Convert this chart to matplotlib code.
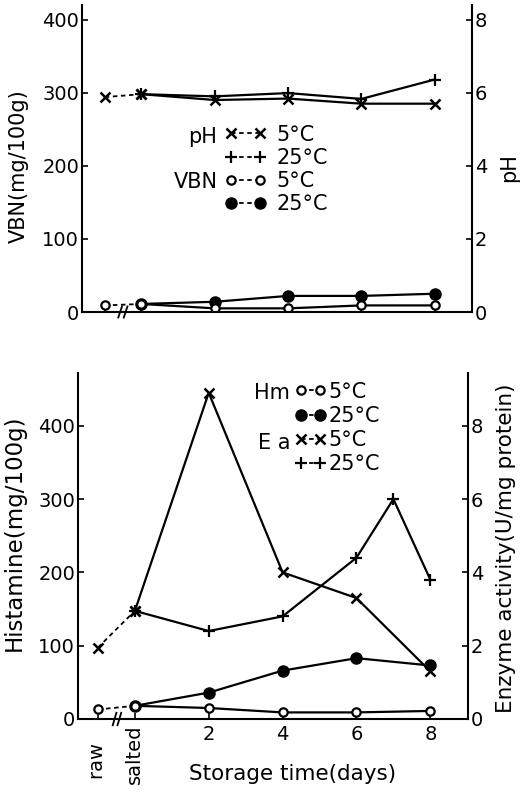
import matplotlib
matplotlib.use('Agg')
import matplotlib.pyplot as plt
from matplotlib.lines import Line2D
import matplotlib.transforms as mtransforms

plt.rcParams['font.family'] = ['DejaVu Sans']
plt.rcParams['font.size'] = 14

# eje x: raw = -1, salted = 0, luego dias de almacenamiento
x_dias = [-1, 0, 2, 4, 6, 8]
x_dias_sin_raw = [0, 2, 4, 6, 8]
x_ea25 = [0, 2, 4, 6, 7, 8]
xtick_pos = [-1, 0, 2, 4, 6, 8]
xtick_lbl = ['raw   ', 'salted', '2', '4', '6', '8']

# panel superior: pH y VBN
ph_5 = [5.88, 5.96, 5.80, 5.84, 5.70, 5.70]
ph_25 = [5.96, 5.90, 5.99, 5.83, 6.36]
vbn_5 = [9, 11, 5, 5, 9, 9]
vbn_25 = [11, 14, 22, 22, 25]

# panel inferior: histamina y actividad enzimatica
hm_5 = [13, 18, 15, 9, 9, 11]
hm_25 = [18, 36, 66, 83, 73]
ea_5 = [1.95, 2.95, 8.9, 4.0, 3.3, 1.3]
ea_25 = [2.95, 2.4, 2.8, 4.4, 6.0, 3.8]

LW = 1.6
dash = (0, (2.5, 2))


def estilo_ejes(ax, ax2):
    for a in (ax, ax2):
        a.spines['top'].set_visible(False)
        for s in a.spines.values():
            s.set_linewidth(1.5)
        a.tick_params(direction='in', length=4, width=1.2, labelsize=14)
    ax2.spines['left'].set_visible(False)
    ax2.spines['bottom'].set_visible(False)
    ax.spines['right'].set_visible(False)
    ax.tick_params(axis='y', pad=2)
    ax2.tick_params(axis='y', pad=2)


def marcas_corte(ax, xs):
    trans = mtransforms.blended_transform_factory(ax.transData, ax.transAxes)
    for xc in xs:
        ax.plot([xc - 0.05, xc + 0.05], [-0.018, 0.018], color='k', lw=1.3,
                transform=trans, clip_on=False)


fig = plt.figure(figsize=(5.21, 7.92), dpi=100)

# ---------------- panel superior ----------------
ax = fig.add_axes([82 / 521, 1 - 312 / 792, 390 / 521, 307 / 792])
ax2 = ax.twinx()
ax.set_xlim(-1.62, 9.02)
ax.set_ylim(0, 420)
ax2.set_ylim(0, 8.4)
estilo_ejes(ax, ax2)
ax.set_yticks([0, 100, 200, 300, 400])
ax2.set_yticks([0, 2, 4, 6, 8])
ax.set_xticks(xtick_pos)
ax.set_xticklabels([])

mk_x = dict(marker='x', ms=7, mew=1.8, color='k')
mk_p = dict(marker='+', ms=9, mew=1.6, color='k')
mk_o = dict(marker='o', ms=6, mew=1.6, mfc='white', color='k')
mk_f = dict(marker='o', ms=8, mew=1.0, mfc='k', color='k')

ax2.plot(x_dias[:2], ph_5[:2], ls=dash, lw=1.3, **mk_x)
ax2.plot(x_dias[1:], ph_5[1:], ls='-', lw=LW, **mk_x)
ax2.plot(x_dias_sin_raw, ph_25, ls='-', lw=LW, **mk_p)
ax.plot(x_dias_sin_raw, vbn_25, ls='-', lw=LW, **mk_f)
ax.plot(x_dias[:2], vbn_5[:2], ls=dash, lw=1.3, **mk_o)
ax.plot(x_dias[1:], vbn_5[1:], ls='-', lw=LW, **mk_o)

ax.set_ylabel('VBN(mg/100g)', fontsize=15)
ax.yaxis.set_label_coords(-0.137, 0.475)
ax2.set_ylabel('pH', fontsize=15)
ax2.yaxis.set_label_coords(1.07, 0.47)
marcas_corte(ax, [-0.58, -0.43])

h_top = [Line2D([], [], ls=dash, lw=1.3, **mk_x),
         Line2D([], [], ls=dash, lw=1.3, **mk_p),
         Line2D([], [], ls=dash, lw=1.3, **mk_o),
         Line2D([], [], ls=dash, lw=1.3, **mk_f)]
ax.legend(h_top, ['5°C', '25°C', '5°C', '25°C'], loc='upper left',
          bbox_to_anchor=(0.365, 0.61), frameon=False, numpoints=2,
          handlelength=2.0, handletextpad=0.5, labelspacing=0.15,
          borderpad=0, borderaxespad=0, fontsize=15)
ax.text(0.347, 0.570, 'pH', transform=ax.transAxes, ha='right', va='center', fontsize=15)
ax.text(0.347, 0.423, 'VBN', transform=ax.transAxes, ha='right', va='center', fontsize=15)

# ---------------- panel inferior ----------------
bx = fig.add_axes([78 / 521, 1 - 719 / 792, 390 / 521, 346 / 792])
bx2 = bx.twinx()
bx.set_xlim(-1.54, 9.02)
bx.set_ylim(0, 472)
bx2.set_ylim(0, 9.44)
estilo_ejes(bx, bx2)
bx.set_yticks([0, 100, 200, 300, 400])
bx2.set_yticks([0, 2, 4, 6, 8])
bx.set_xticks(xtick_pos)
bx.set_xticklabels(xtick_lbl)
for lbl in bx.get_xticklabels()[:2]:
    lbl.set_rotation(90)
    lbl.set_va('top')
bx.tick_params(axis='x', pad=4)

bx2.plot(x_dias[:2], ea_5[:2], ls=dash, lw=1.3, **mk_x)
bx2.plot(x_dias[1:], ea_5[1:], ls='-', lw=LW, **mk_x)
bx2.plot(x_ea25, ea_25, ls='-', lw=LW, **mk_p)
bx.plot(x_dias_sin_raw, hm_25, ls='-', lw=LW, **mk_f)
bx.plot(x_dias[:2], hm_5[:2], ls=dash, lw=1.3, **mk_o)
bx.plot(x_dias[1:], hm_5[1:], ls='-', lw=LW, **mk_o)

bx.set_ylabel('Histamine(mg/100g)', fontsize=16.5)
bx.yaxis.set_label_coords(-0.133, 0.538)
bx2.set_ylabel('Enzyme activity(U/mg protein)', fontsize=15.5)
bx2.yaxis.set_label_coords(1.072, 0.494)
bx.set_xlabel('Storage time(days)', fontsize=15.5)
bx.xaxis.set_label_coords(0.55, -0.13)
marcas_corte(bx, [-0.55, -0.42])

h_bot = [Line2D([], [], ls=dash, lw=1.3, **mk_o),
         Line2D([], [], ls=dash, lw=1.3, **mk_f),
         Line2D([], [], ls=dash, lw=1.3, **mk_x),
         Line2D([], [], ls=dash, lw=1.3, **mk_p)]
bx.legend(h_bot, ['5°C', '25°C', '5°C', '25°C'], loc='upper left',
          bbox_to_anchor=(0.556, 0.975), frameon=False, numpoints=2,
          handlelength=1.5, handletextpad=0.1, labelspacing=0.2,
          borderpad=0, borderaxespad=0, fontsize=15)
bx.text(0.544, 0.942, 'Hm', transform=bx.transAxes, ha='right', va='center', fontsize=15)
bx.text(0.544, 0.798, 'E a', transform=bx.transAxes, ha='right', va='center', fontsize=15)

plt.savefig('out.png', dpi=100)
plt.close(fig)
